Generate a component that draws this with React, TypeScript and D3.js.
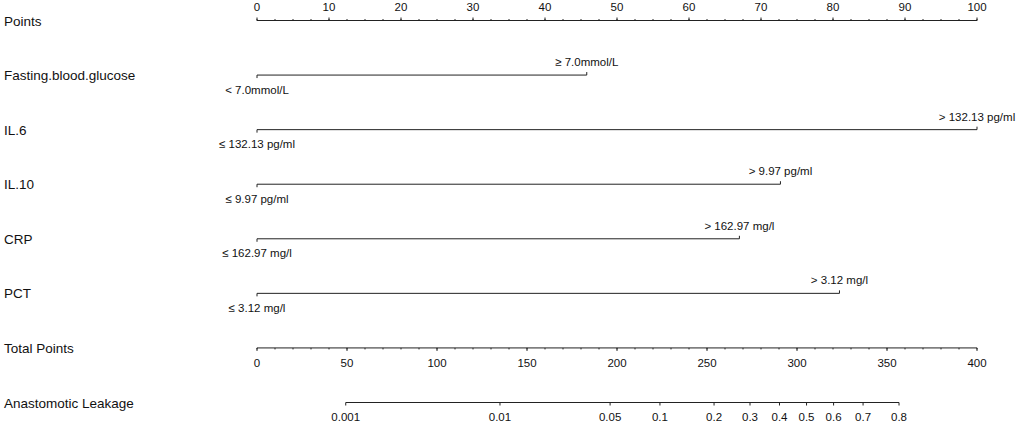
import React from 'react';
import * as d3 from 'd3';

// nomogram rows
const rowLabels = ['Points', 'Fasting.blood.glucose', 'IL.6', 'IL.10', 'CRP', 'PCT', 'Total Points', 'Anastomotic Leakage'];
const variables = ['Fasting.blood.glucose', 'IL.6', 'IL.10', 'CRP', 'PCT'];
const lowLabels = ['< 7.0mmol/L', '≤ 132.13 pg/ml', '≤ 9.97 pg/ml', '≤ 162.97 mg/l', '≤ 3.12 mg/l'];
const highLabels = ['≥ 7.0mmol/L', '> 132.13 pg/ml', '> 9.97 pg/ml', '> 162.97 mg/l', '> 3.12 mg/l'];
const highPoints = [45.8, 100, 72.7, 67.0, 80.9];

const pointsTicks = d3.range(0, 101, 10);
const pointsMinor = d3.range(0, 100.1, 2.5);
const totalTicks = d3.range(0, 401, 50);
const totalMinor = d3.range(0, 401, 10);
const riskTicks = [0.001, 0.01, 0.05, 0.1, 0.2, 0.3, 0.4, 0.5, 0.6, 0.7, 0.8];
const riskLabels = ['0.001', '0.01', '0.05', '0.1', '0.2', '0.3', '0.4', '0.5', '0.6', '0.7', '0.8'];

// logistic model: lp = intercept + slope * total points
const intercept = -8.237;
const slope = 0.02698;

const W = 1020;
const H = 426;
const FONT = '"Liberation Sans", Arial, sans-serif';
const INK = '#111';
const LINE = '#222';
const SMALL = 11.5;

export default function App() {
  const xPts = d3.scaleLinear().domain([0, 100]).range([257, 977]);
  const xTot = d3.scaleLinear().domain([0, 400]).range([257, 977]);
  const yRow = d3.scaleLinear().domain([0, rowLabels.length - 1]).range([20.5, 402.5]);
  const riskX = (p: number) => xTot((Math.log(p / (1 - p)) - intercept) / slope);

  return (
    <svg width={W} height={H} style={{ position: 'absolute', left: 0, top: 0, background: '#fff' }}
      fontFamily={FONT}>
      {rowLabels.map((r, i) => (
        <text key={r} x={4} y={yRow(i) + 5} fontSize={13.5} fill={INK}>{r}</text>
      ))}

      {/* Points axis */}
      <g>
        <line x1={xPts(0)} x2={xPts(100)} y1={yRow(0)} y2={yRow(0)} stroke={LINE} />
        {pointsMinor.map(t => (
          <line key={t} x1={xPts(t)} x2={xPts(t)} y1={yRow(0)} y2={yRow(0) - 1.5} stroke={LINE} />
        ))}
        {pointsTicks.map(t => (
          <g key={t}>
            <line x1={xPts(t)} x2={xPts(t)} y1={yRow(0)} y2={yRow(0) - 3} stroke={LINE} />
            <text x={xPts(t)} y={11} fontSize={SMALL} textAnchor="middle" fill={INK}>{t}</text>
          </g>
        ))}
      </g>

      {/* variable rows */}
      {variables.map((v, i) => {
        const y = yRow(i + 1);
        const x0 = xPts(0);
        const x1 = xPts(highPoints[i]);
        return (
          <g key={v}>
            <line x1={x0} x2={x1} y1={y} y2={y} stroke={LINE} />
            <line x1={x0} x2={x0} y1={y} y2={y + 3} stroke={LINE} />
            <line x1={x1} x2={x1} y1={y} y2={y - 3} stroke={LINE} />
            <text x={x0} y={y + 18.5} fontSize={SMALL} textAnchor="middle" fill={INK}>{lowLabels[i]}</text>
            <text x={x1} y={y - 9} fontSize={SMALL} textAnchor="middle" fill={INK}>{highLabels[i]}</text>
          </g>
        );
      })}

      {/* Total points axis */}
      <g>
        <line x1={xTot(0)} x2={xTot(400)} y1={yRow(6)} y2={yRow(6)} stroke={LINE} />
        {totalMinor.map(t => (
          <line key={t} x1={xTot(t)} x2={xTot(t)} y1={yRow(6)} y2={yRow(6) + 1.5} stroke={LINE} />
        ))}
        {totalTicks.map(t => (
          <g key={t}>
            <line x1={xTot(t)} x2={xTot(t)} y1={yRow(6)} y2={yRow(6) + 3} stroke={LINE} />
            <text x={xTot(t)} y={yRow(6) + 19} fontSize={SMALL} textAnchor="middle" fill={INK}>{t}</text>
          </g>
        ))}
      </g>

      {/* risk axis */}
      <g>
        <line x1={riskX(riskTicks[0])} x2={riskX(riskTicks[riskTicks.length - 1])}
          y1={yRow(7)} y2={yRow(7)} stroke={LINE} />
        {riskTicks.map((p, i) => (
          <g key={p}>
            <line x1={riskX(p)} x2={riskX(p)} y1={yRow(7)} y2={yRow(7) + 3} stroke={LINE} />
            <text x={riskX(p)} y={yRow(7) + 18.5} fontSize={SMALL} textAnchor="middle" fill={INK}>{riskLabels[i]}</text>
          </g>
        ))}
      </g>
    </svg>
  );
}
